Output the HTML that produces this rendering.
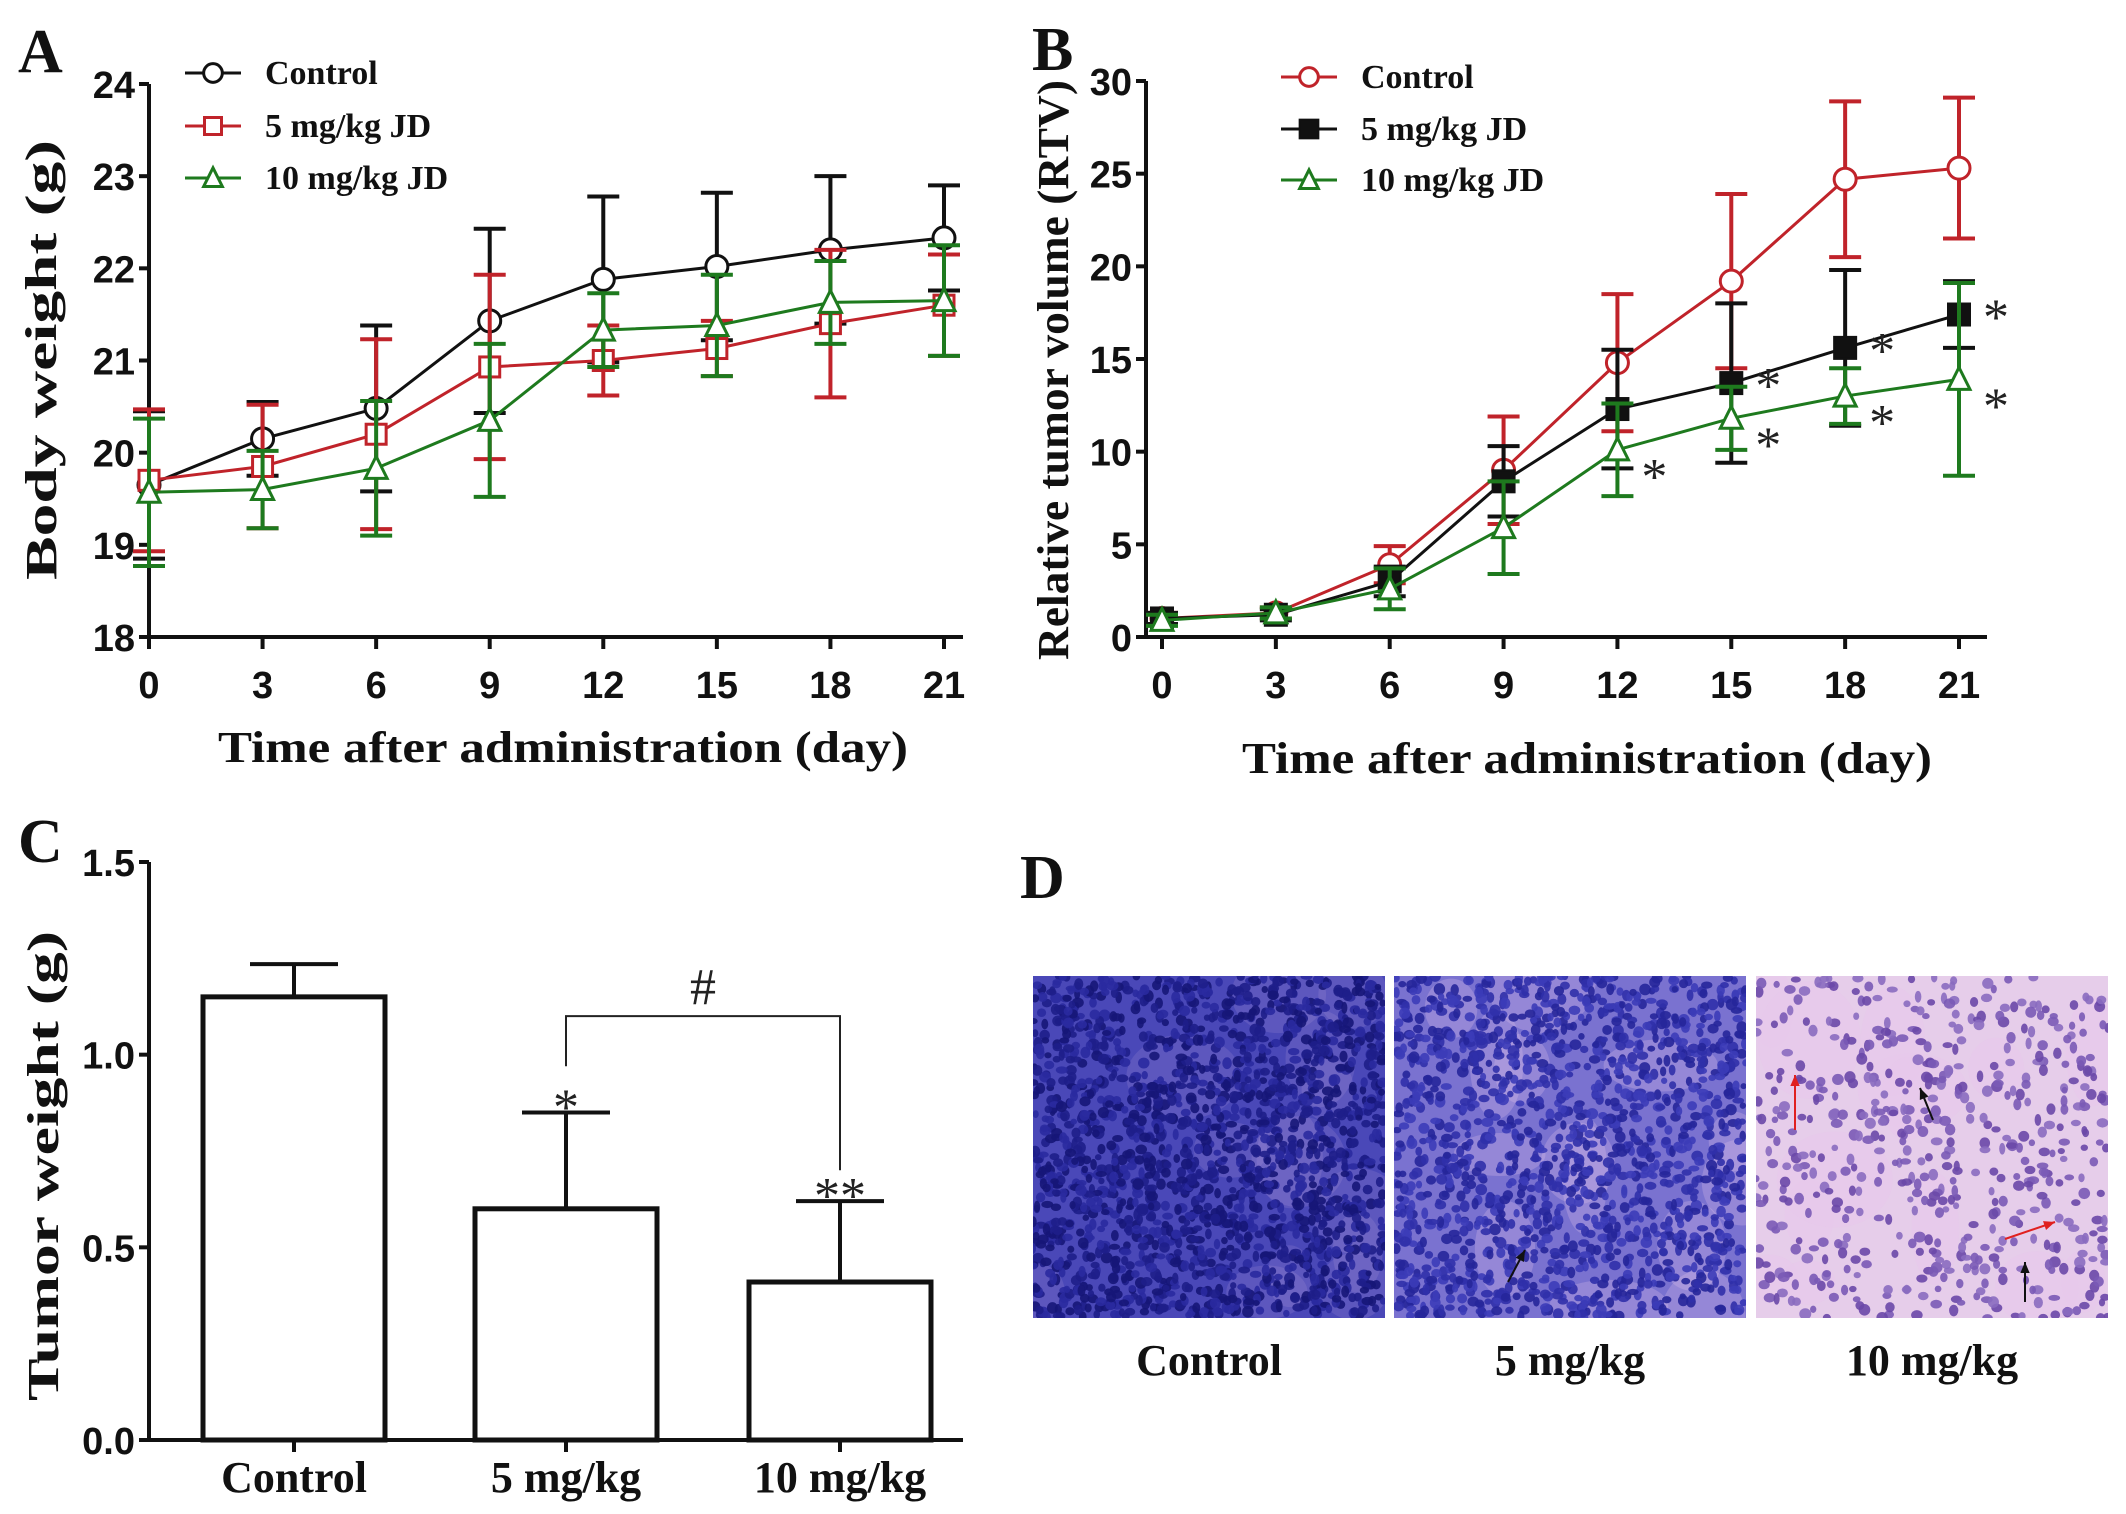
<!DOCTYPE html>
<html><head><meta charset="utf-8">
<style>
html,body{margin:0;padding:0;background:#fff;}
svg{display:block;}
.tick{font-family:"Liberation Sans Narrow","Liberation Sans",sans-serif;font-weight:bold;font-size:38px;fill:#111;}
.ttl{font-family:"Liberation Serif",serif;font-weight:bold;font-size:44px;fill:#111;}
.leg{font-family:"Liberation Serif",serif;font-weight:bold;font-size:34px;fill:#111;}
.lbl{font-family:"Liberation Serif",serif;font-weight:bold;font-size:62px;fill:#111;}
.star{font-family:"Liberation Serif",serif;font-size:52px;fill:#222;}
</style></head>
<body>
<svg id="fig" width="2126" height="1514" viewBox="0 0 2126 1514" xmlns="http://www.w3.org/2000/svg"></svg>
<script>
// ---- Panel A data ----
const daysA = [0,3,6,9,12,15,18,21];
const aControl = [19.65,20.15,20.48,21.43,21.88,22.02,22.2,22.33];
const aControlErr = [0.8,0.4,0.9,1.0,0.9,0.8,0.8,0.57];
const a5mg = [19.7,19.85,20.2,20.93,21.0,21.13,21.4,21.6];
const a5mgErr = [0.77,0.67,1.03,1.0,0.38,0.3,0.8,0.55];
const a10mg = [19.57,19.6,19.83,20.35,21.33,21.38,21.63,21.65];
const a10mgErr = [0.8,0.42,0.73,0.83,0.4,0.55,0.45,0.6];
const aYTicks = [18,19,20,21,22,23,24];
// ---- Panel B data ----
const daysB = [0,3,6,9,12,15,18,21];
const bControl = [1,1.3,3.9,9,14.8,19.2,24.7,25.3];
const bControlErr = [0.3,0.3,1,2.9,3.7,4.7,4.2,3.8];
const b5mg = [1,1.2,3,8.4,12.3,13.7,15.6,17.4];
const b5mgErr = [0.3,0.3,0.8,1.9,3.2,4.3,4.2,1.8];
const b10mg = [0.9,1.3,2.6,5.9,10.1,11.8,13,13.9];
const b10mgErr = [0.3,0.3,1.1,2.5,2.5,1.7,1.5,5.2];
const bYTicks = [0,5,10,15,20,25,30];
// ---- Panel C data ----
const cCats = ["Control","5 mg/kg","10 mg/kg"];
const cVals = [1.15,0.6,0.41];
const cErr = [0.085,0.25,0.21];
const cYTicks = ["0.0","0.5","1.0","1.5"];

const NS="http://www.w3.org/2000/svg";
const svg=document.getElementById('fig');
function mk(tag,attrs,parent,text){const e=document.createElementNS(NS,tag);for(const k in attrs)e.setAttribute(k,attrs[k]);if(text!==undefined)e.textContent=text;(parent||svg).appendChild(e);return e;}

function lineChart(cfg){
  const g=mk('g',{});
  
  
  const X=v=>cfg.x0+(v-cfg.xmin)/(cfg.xmax-cfg.xmin)*(cfg.x1-cfg.x0);
  const Y=v=>cfg.y0+(v-cfg.ymin)/(cfg.ymax-cfg.ymin)*(cfg.y1-cfg.y0);
  const ax=mk('path',{d:`M${cfg.ax} ${Y(cfg.ymax)} V${Y(cfg.ymin)} H${cfg.axEnd}`,stroke:'#111','stroke-width':4,fill:'none'},g);
  
  cfg.yticks.forEach(t=>{
    mk('line',{x1:cfg.ax-10,x2:cfg.ax,y1:Y(t),y2:Y(t),stroke:'#111','stroke-width':4},g);
    const tx=mk('text',{x:cfg.ax-14,y:Y(t)+14,'text-anchor':'end',class:'tick'},g,String(t));
    
  });
  cfg.days.forEach(d=>{
    mk('line',{x1:X(d),x2:X(d),y1:Y(cfg.ymin),y2:Y(cfg.ymin)+12,stroke:'#111','stroke-width':4},g);
    const tx=mk('text',{x:X(d),y:cfg.tickY,'text-anchor':'middle',class:'tick'},g,String(d));
    
  });
  cfg.series.forEach(s=>{
    const sg=mk('g',{},g);
    
    s.vals.forEach((v,i)=>{
      const x=X(cfg.days[i]);
      mk('line',{x1:x,x2:x,y1:Y(v-s.err[i]),y2:Y(v+s.err[i]),stroke:s.color,'stroke-width':4},sg);
      [v-s.err[i],v+s.err[i]].forEach(e=>mk('line',{x1:x-16,x2:x+16,y1:Y(e),y2:Y(e),stroke:s.color,'stroke-width':4},sg));
    });
    mk('polyline',{points:s.vals.map((v,i)=>X(cfg.days[i])+','+Y(v)).join(' '),fill:'none',stroke:s.color,'stroke-width':3},sg);
    s.vals.forEach((v,i)=>marker(sg,s.marker,X(cfg.days[i]),Y(v),s.color));
  });
  cfg.series.forEach((s,i)=>{
    const y=cfg.legY[i];
    const lg=mk('g',{},g);
    
    mk('line',{x1:cfg.legX-28,x2:cfg.legX+28,y1:y,y2:y,stroke:s.color,'stroke-width':3},lg);
    marker(lg,s.marker,cfg.legX,y,s.color,0.85);
    mk('text',{x:cfg.legX+52,y:y+11,class:'leg'},lg,s.label);
  });
  return {X,Y,g};
}
function marker(p,type,x,y,c,sc){
  sc=sc||1;
  if(type==='circle')mk('circle',{cx:x,cy:y,r:11*sc,fill:'#fff',stroke:c,'stroke-width':3},p);
  else if(type==='square')mk('rect',{x:x-10*sc,y:y-10*sc,width:20*sc,height:20*sc,fill:'#fff',stroke:c,'stroke-width':3},p);
  else if(type==='fsquare')mk('rect',{x:x-11*sc,y:y-11*sc,width:22*sc,height:22*sc,fill:c,stroke:c,'stroke-width':2},p);
  else mk('path',{d:`M${x} ${y-12*sc} L${x+11*sc} ${y+10*sc} L${x-11*sc} ${y+10*sc}Z`,fill:'#fff',stroke:c,'stroke-width':3},p);
}

lineChart({name:'body-weight-chart',days:daysA,xmin:0,xmax:21,x0:149,x1:944,ymin:18,ymax:24,y0:637,y1:84,ax:149,axEnd:963,tickY:698,yticks:aYTicks,
  legX:213,legY:[73,126,178],
  series:[{name:'series-control',label:'Control',vals:aControl,err:aControlErr,color:'#111',marker:'circle'},
          {name:'series-5mg',label:'5 mg/kg JD',vals:a5mg,err:a5mgErr,color:'#c0232a',marker:'square'},
          {name:'series-10mg',label:'10 mg/kg JD',vals:a10mg,err:a10mgErr,color:'#1e7a1e',marker:'tri'}]});
const B=lineChart({name:'tumor-volume-chart',days:daysB,xmin:0,xmax:21,x0:1162,x1:1959,ymin:0,ymax:30,y0:637,y1:81,ax:1146,axEnd:1987,tickY:698,yticks:bYTicks,
  legX:1309,legY:[77,129,180],
  series:[{name:'series-control',label:'Control',vals:bControl,err:bControlErr,color:'#c0232a',marker:'circle'},
          {name:'series-5mg',label:'5 mg/kg JD',vals:b5mg,err:b5mgErr,color:'#111',marker:'fsquare'},
          {name:'series-10mg',label:'10 mg/kg JD',vals:b10mg,err:b10mgErr,color:'#1e7a1e',marker:'tri'}]});
[5,6,7].forEach(i=>{const t=mk('text',{x:B.X(daysB[i])+24,y:B.Y(b5mg[i])+20,class:'star'},B.g,'*');});
[4,5,6,7].forEach(i=>{const t=mk('text',{x:B.X(daysB[i])+24,y:B.Y(b10mg[i])+44,class:'star'},B.g,'*');});

(function(){
  const g=mk('g',{});
  const Y=v=>1440-v/1.5*(1440-862);
  const cx=[294,566,840], bw=182;
  mk('path',{d:`M149 862 V1440 H963`,stroke:'#111','stroke-width':4,fill:'none'},g);
  cYTicks.forEach(t=>{const v=parseFloat(t);mk('line',{x1:139,x2:149,y1:Y(v),y2:Y(v),stroke:'#111','stroke-width':4},g);
    const tx=mk('text',{x:135,y:Y(v)+14,'text-anchor':'end',class:'tick'},g,t);});
  cVals.forEach((v,i)=>{
    mk('line',{x1:cx[i],x2:cx[i],y1:Y(v),y2:Y(v+cErr[i]),stroke:'#111','stroke-width':4},g);
    mk('line',{x1:cx[i]-44,x2:cx[i]+44,y1:Y(v+cErr[i]),y2:Y(v+cErr[i]),stroke:'#111','stroke-width':4},g);
    const r=mk('rect',{x:cx[i]-bw/2,y:Y(v),width:bw,height:1440-Y(v),fill:'#fff',stroke:'#111','stroke-width':5},g);
    
    mk('line',{x1:cx[i],x2:cx[i],y1:1440,y2:1452,stroke:'#111','stroke-width':4},g);
    const tx=mk('text',{x:cx[i],y:1492,'text-anchor':'middle',class:'ttl'},g,cCats[i]);
  });
  mk('path',{d:`M${cx[1]} ${Y(0.97)} V${Y(1.1)} H${cx[2]} V${Y(0.7)}`,stroke:'#222','stroke-width':2,fill:'none'},g);
  mk('text',{x:(cx[1]+cx[2])/2,y:Y(1.1)-12,'text-anchor':'middle',class:'star','font-size':'34px'},g,'#');
  mk('text',{x:cx[1],y:Y(cVals[1]+cErr[1])+12,'text-anchor':'middle',class:'star','font-size':'58px'},g,'*');
  mk('text',{x:cx[2],y:Y(cVals[2]+cErr[2])+12,'text-anchor':'middle',class:'star','font-size':'58px'},g,'**');
})();

function T(x,y,txt,cls,name,extra){const t=mk('text',Object.assign({x:x,y:y,class:cls},extra||{}),svg,txt);return t;}
const SG='spacingAndGlyphs';
T(563,762,'Time after administration (day)','ttl','x-axis-title-a',{'text-anchor':'middle',textLength:690,lengthAdjust:SG});
T(1587,773,'Time after administration (day)','ttl','x-axis-title-b',{'text-anchor':'middle',textLength:690,lengthAdjust:SG});
T(0,0,'Body weight (g)','ttl','y-axis-title-a',{'text-anchor':'middle',transform:'translate(56 360) rotate(-90)',textLength:440,lengthAdjust:SG,'font-size':'50px'});
T(0,0,'Relative tumor volume (RTV)','ttl','y-axis-title-b',{'text-anchor':'middle',transform:'translate(1068 370) rotate(-90)',textLength:580,lengthAdjust:SG,'font-size':'46px'});
T(0,0,'Tumor weight (g)','ttl','y-axis-title-c',{'text-anchor':'middle',transform:'translate(58 1166) rotate(-90)',textLength:470,lengthAdjust:SG,'font-size':'54px'});
T(18,72,'A','lbl','panel-label-a');
T(1032,70,'B','lbl','panel-label-b');
T(18,862,'C','lbl','panel-label-c');
T(1020,898,'D','lbl','panel-label-d');

let seed=7;function rnd(){seed=(seed*16807)%2147483647;return seed/2147483647;}
const imgs=[{x:1033,bg:'#4a48b8',cells:['#1e1e8a','#2a2aa0','#161678'],n:1900,pink:0.12,name:'histology-control',label:'Control'},
            {x:1394,bg:'#7a72d0',cells:['#3030aa','#3c3cb8','#26269a'],n:1500,pink:0.25,name:'histology-5mg',label:'5 mg/kg'},
            {x:1756,bg:'#e6cdea',cells:['#7a5ab6','#8a6cc0','#6a48a8'],n:550,pink:0.5,name:'histology-10mg',label:'10 mg/kg'}];
imgs.forEach(im=>{
  const g=mk('g',{});
  const w=352,h=342,y=976;
  const cp=mk('clipPath',{id:'c'+im.x},g);
  mk('rect',{x:im.x,y:y,width:w,height:h},cp);
  mk('rect',{x:im.x,y:y,width:w,height:h,fill:im.bg},g);
  const cg=mk('g',{'clip-path':`url(#c${im.x})`},g);
  for(let i=0;i<14;i++)mk('ellipse',{cx:im.x+rnd()*w,cy:y+rnd()*h,rx:20+rnd()*40,ry:20+rnd()*40,fill:'#e8c8ec',opacity:im.pink},cg);
  for(let i=0;i<im.n;i++)mk('ellipse',{cx:im.x+rnd()*w,cy:y+rnd()*h,rx:3+rnd()*3,ry:3+rnd()*3,fill:im.cells[i%3],opacity:0.9},cg);
  const t=mk('text',{x:im.x+w/2,y:1375,'text-anchor':'middle',class:'ttl'},g,im.label);
  
});
function arrow(x1,y1,x2,y2,c){const a=Math.atan2(y2-y1,x2-x1);mk('line',{x1:x1,y1:y1,x2:x2,y2:y2,stroke:c,'stroke-width':2});
  mk('path',{d:`M${x2} ${y2} L${x2-12*Math.cos(a-0.4)} ${y2-12*Math.sin(a-0.4)} L${x2-12*Math.cos(a+0.4)} ${y2-12*Math.sin(a+0.4)}Z`,fill:c});}
arrow(1508,1282,1525,1250,'#111');
arrow(1795,1130,1795,1075,'#e02020');
arrow(1933,1120,1920,1088,'#111');
arrow(2005,1239,2055,1222,'#e02020');
arrow(2025,1302,2025,1262,'#111');
</script>
</body></html>
